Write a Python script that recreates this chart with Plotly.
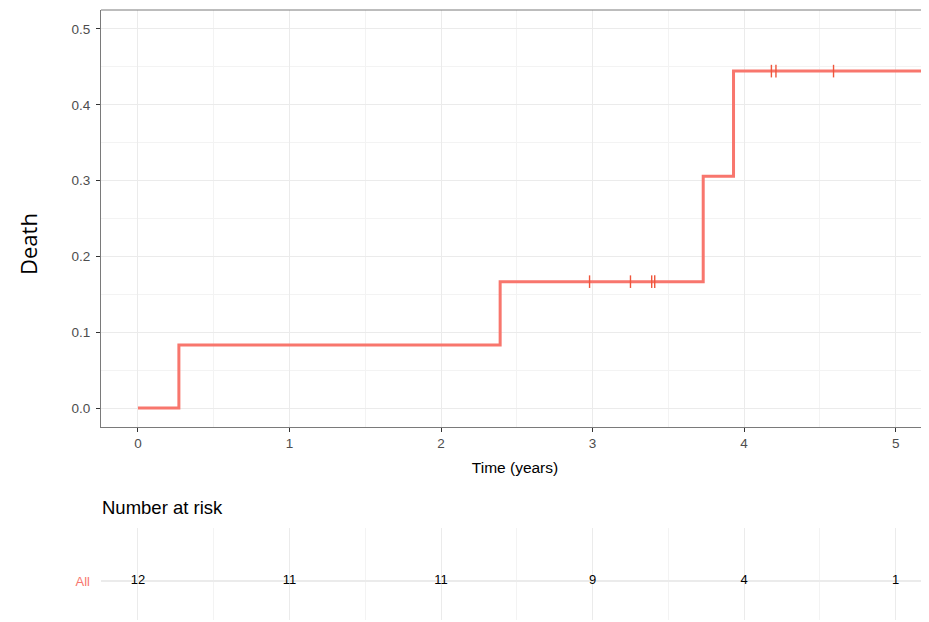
import numpy as np
import plotly.graph_objects as go

# ---- data ----
step_times = [0.0, 0.27, 2.39, 3.73, 3.93, 5.30]
cum_death = [0.0, 0.0833, 0.1667, 0.3056, 0.4444, 0.4444]
censor_times = [2.98, 3.25, 3.39, 3.41, 4.18, 4.21, 4.59]
risk_times = [0, 1, 2, 3, 4, 5]
risk_counts = [12, 11, 11, 9, 4, 1]
strata_label = "All"

RED = "#F8766D"
OFF = 8  # page body margin
W, H = 929 - OFF, 622 - OFF

def px(x):
    return (x - OFF) / W

def py(y):
    return 1 - (y - OFF) / H

# censor y derived from the step function
idx = np.searchsorted(step_times, censor_times, side="right") - 1
censor_y = [cum_death[i] for i in idx]

fig = go.Figure()
fig.add_trace(go.Scatter(x=step_times, y=cum_death, mode="lines", line=dict(color=RED, width=3, shape="hv"),
                         xaxis="x", yaxis="y", showlegend=False, hoverinfo="skip"))
fig.add_trace(go.Scatter(x=censor_times, y=censor_y, mode="markers",
                         marker=dict(symbol="line-ns-open", size=9, line=dict(color=RED, width=1.4)),
                         xaxis="x", yaxis="y", showlegend=False, hoverinfo="skip"))
fig.add_trace(go.Scatter(x=risk_times, y=[0] * len(risk_times), mode="text",
                         text=[str(c) for c in risk_counts],
                         textfont=dict(family="Liberation Sans, Arial", size=13, color="black"),
                         xaxis="x2", yaxis="y2", showlegend=False, hoverinfo="skip"))

x0 = px(101)
main_dom = [py(427), py(10)]
tab_dom = [py(620), py(528)]
xr = [-0.244, 5.22]
grid = "#ebebeb"
tickfont = dict(family="Liberation Sans, Arial", size=13.5, color="#4d4d4d")

common_x = dict(range=xr, domain=[x0, 1], showgrid=True, gridcolor=grid, gridwidth=1.1, zeroline=False,
                dtick=1, tick0=0,
                minor=dict(showgrid=True, gridcolor="#f3f3f3", gridwidth=0.7, dtick=0.5, tick0=0))

fig.update_layout(
    width=W, height=H, margin=dict(l=0, r=0, t=0, b=0),
    plot_bgcolor="white", paper_bgcolor="white",
    xaxis=dict(**common_x, anchor="y", ticks="outside", ticklen=4, tickcolor="#333333", tickwidth=1,
               tickfont=tickfont, showline=True, linecolor="#7a7a7a", linewidth=1,
               title=dict(text="Time (years)", font=dict(family="Liberation Sans, Arial", size=15.5, color="black"), standoff=11)),
    yaxis=dict(domain=main_dom, range=[-0.025, 0.525], dtick=0.1, tick0=0, tickformat=".1f",
               showgrid=True, gridcolor=grid, gridwidth=1.1, zeroline=False,
               minor=dict(showgrid=True, gridcolor="#f3f3f3", gridwidth=0.7, dtick=0.05, tick0=0),
               ticks="outside", ticklen=4, tickcolor="#333333", tickfont=tickfont, ticklabelstandoff=3,
               showline=True, linecolor="#7a7a7a", linewidth=1),
    xaxis2=dict(**common_x, anchor="y2", showticklabels=False, ticks=""),
    yaxis2=dict(domain=tab_dom, range=[-0.424, 0.576], tickvals=[0], ticktext=[strata_label],
                tickfont=dict(family="Liberation Sans, Arial", size=13, color=RED), ticklabelstandoff=10,
                showgrid=True, gridcolor=grid, gridwidth=1.5, zeroline=False, ticks="", showline=False),
    shapes=[dict(type="line", xref="paper", yref="paper", x0=x0, x1=1, y0=main_dom[1], y1=main_dom[1],
                 line=dict(color="#7a7a7a", width=1))],
    annotations=[
        dict(text="Death", xref="paper", yref="paper", x=px(28), y=py(244), textangle=-90, showarrow=False,
             font=dict(family="Open Sans, Noto Sans", size=22, color="black"), xanchor="center", yanchor="middle"),
        dict(text="Number at risk", xref="paper", yref="paper", x=x0 - 0.001, y=py(507), showarrow=False,
             font=dict(family="Liberation Sans, Arial", size=18.5, color="black"), xanchor="left", yanchor="middle"),
    ],
)

fig.write_html("out.html")
